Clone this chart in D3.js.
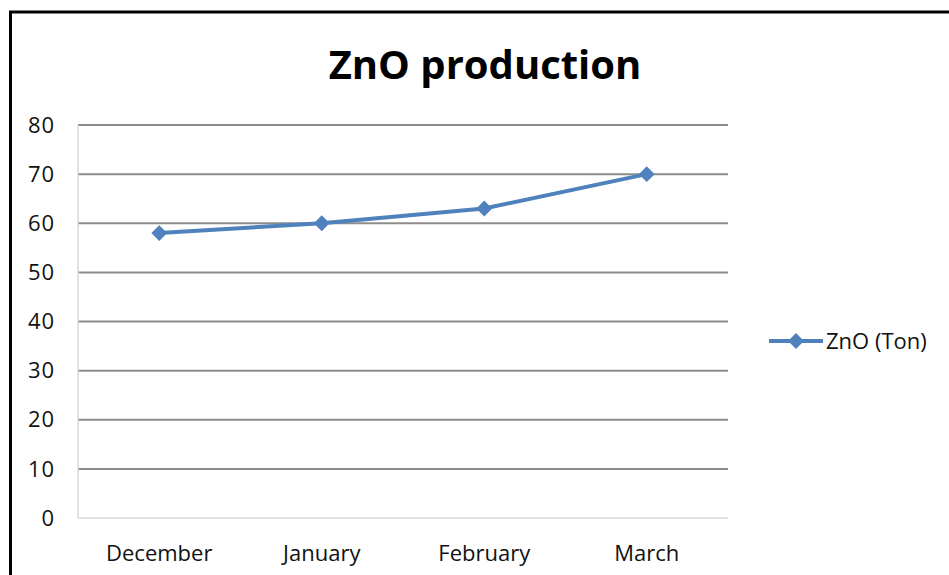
<!DOCTYPE html>
<html><head><meta charset="utf-8">
<script src="https://cdn.jsdelivr.net/npm/d3@7"></script>
<style>body{margin:0;background:#fff;}svg{display:block;}</style>
</head><body>
<script>
const categories = ["December", "January", "February", "March"];
const values = [58, 60, 63, 70];
const yTicks = [0, 10, 20, 30, 40, 50, 60, 70, 80];
const seriesName = "ZnO (Ton)";
const title = "ZnO production";

(function () {
const W = 949, H = 575;
const svg = d3.select("body").append("svg").attr("width", W).attr("height", H);
const font = "'Open Sans', sans-serif";

// outer border (left and top visible)
svg.append("path").attr("d", `M10.5,575 L10.5,12 L949,12`).attr("fill", "none").attr("stroke", "#000").attr("stroke-width", 3);

const pL = 78, pR = 728, pT = 125, pB = 518;
const x = d3.scaleBand().domain(categories).range([pL, pR]);
const y = d3.scaleLinear().domain([0, 80]).range([pB, pT]);

// gridlines
svg.append("g").selectAll("line").data(yTicks.filter(d => d > 0)).join("line")
  .attr("x1", pL).attr("x2", pR).attr("y1", d => y(d)).attr("y2", d => y(d))
  .attr("stroke", "#8c8c8c").attr("stroke-width", 2);

// axes lines
svg.append("line").attr("x1", pL).attr("x2", pL).attr("y1", pT).attr("y2", pB).attr("stroke", "#d9d9d9").attr("stroke-width", 1.5);
svg.append("line").attr("x1", pL).attr("x2", pR).attr("y1", pB).attr("y2", pB).attr("stroke", "#d9d9d9").attr("stroke-width", 1.5);

// y tick labels
svg.append("g").selectAll("text").data(yTicks).join("text")
  .attr("x", 54).attr("y", d => y(d)).attr("dy", "0.35em").attr("text-anchor", "end")
  .attr("font-family", font).attr("font-size", 22).attr("fill", "#111")
  .attr("textLength", d => String(d).length * 13).text(d => d);

// x labels
svg.append("g").selectAll("text").data(categories).join("text")
  .attr("x", d => x(d) + x.bandwidth() / 2).attr("y", 561).attr("text-anchor", "middle")
  .attr("font-family", font).attr("font-size", 22).attr("fill", "#111").text(d => d);

const blue = "#4f81bd";
const line = d3.line().x((d, i) => x(categories[i]) + x.bandwidth() / 2).y(d => y(d));
svg.append("path").datum(values).attr("d", line).attr("fill", "none").attr("stroke", blue).attr("stroke-width", 4).attr("stroke-linejoin", "round");

const diamond = d3.symbol().type(d3.symbolSquare).size(125);
svg.append("g").selectAll("path").data(values).join("path")
  .attr("d", diamond)
  .attr("transform", (d, i) => `translate(${x(categories[i]) + x.bandwidth() / 2},${y(d)}) rotate(45)`)
  .attr("fill", blue);

// title
svg.append("text").attr("x", 485).attr("y", 79).attr("text-anchor", "middle")
  .attr("font-family", font).attr("font-weight", "bold").attr("font-size", 40).attr("fill", "#000").text(title);

// legend
const ly = 341;
svg.append("line").attr("x1", 769).attr("x2", 823).attr("y1", ly).attr("y2", ly).attr("stroke", blue).attr("stroke-width", 4);
svg.append("path").attr("d", diamond).attr("transform", `translate(796,${ly}) rotate(45)`).attr("fill", blue);
svg.append("text").attr("x", 826).attr("y", ly).attr("dy", "0.35em")
  .attr("font-family", font).attr("font-size", 22).attr("fill", "#111").text(seriesName);
})();
</script>
</body></html>
